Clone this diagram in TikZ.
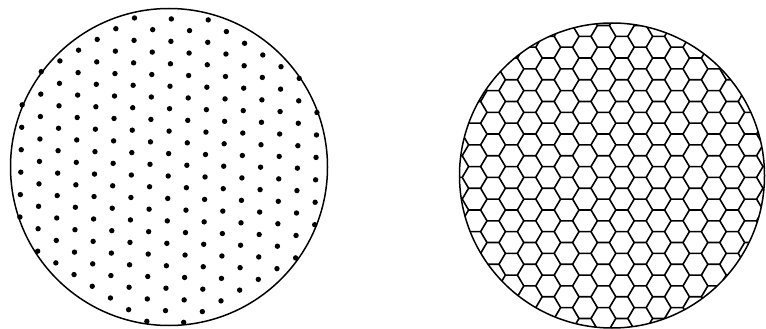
\documentclass[tikz,border=0pt]{standalone}
\tikzset{
  outline/.style={line width=1.5pt, black},
  celledge/.style={line width=1.6pt, black, line join=round},
  dotmark/.style={fill=black},
}
\begin{document}
\begin{tikzpicture}[x=1pt,y=-1pt]
\path[use as bounding box] (0,0) rectangle (766,329);
\coordinate (L) at (169,167);
\coordinate (R) at (612,175.5);
% dot lattice
\foreach \i in {-13,...,13}{
 \foreach \j in {-10,...,10}{
  \pgfmathsetmacro\px{150-0.45*\i+18.2*\j}
  \pgfmathsetmacro\py{164.3+22.44*\i+11.7*\j}
  \pgfmathtruncatemacro\inside{veclen(\px-169,\py-167)<159.5 ? 1 : 0}
  \ifnum\inside=1 \fill[dotmark] (\px,\py) circle[radius=2.7]; \fi
 }}
% honeycomb
\begin{scope}
\clip (R) circle[radius=152.5];
\foreach \i in {-13,...,13}{
 \foreach \j in {-10,...,10}{
  \pgfmathsetmacro\cx{585+18.4*\j}
  \pgfmathsetmacro\cy{155.7+21.7*\i+10.85*\j}
  \pgfmathtruncatemacro\near{veclen(\cx-612,\cy-175.5)<175 ? 1 : 0}
  \ifnum\near=1
  \draw[celledge] (\cx,\cy) ++(-6,-10.85) -- ++(12,0) -- ++(6.4,10.85) -- ++(-6.4,10.85);
  \fi
 }}
\end{scope}
\draw[outline] (L) circle[radius=158.5];
\draw[outline] (R) circle[radius=152.5];
\end{tikzpicture}
\end{document}
